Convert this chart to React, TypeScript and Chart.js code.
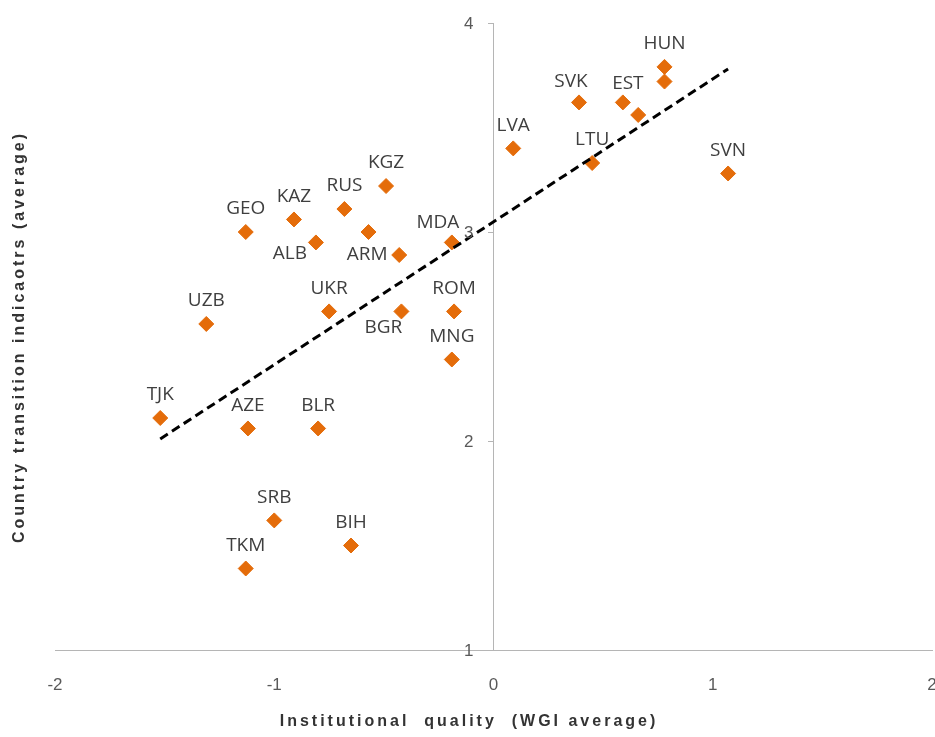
import React, { useEffect, useRef } from 'react';
import { Chart, registerables } from 'chart.js';

Chart.register(...registerables);

// Country codes (empty string = unlabeled point)
const countries = ['HUN', '', 'SVK', 'EST', '', 'LVA', 'LTU', 'SVN', 'KGZ', 'RUS', 'KAZ', 'GEO', 'ALB', '', 'ARM', 'MDA', 'UZB', 'UKR', 'BGR', 'ROM', 'MNG', 'TJK', 'AZE', 'BLR', 'SRB', 'BIH', 'TKM'];
// Institutional quality (WGI average)
const institutionalQuality = [0.78, 0.78, 0.39, 0.59, 0.66, 0.09, 0.45, 1.07, -0.49, -0.68, -0.91, -1.13, -0.81, -0.57, -0.43, -0.19, -1.31, -0.75, -0.42, -0.18, -0.19, -1.52, -1.12, -0.80, -1.00, -0.65, -1.13];
// Country transition indicators (average)
const transitionIndicators = [3.79, 3.72, 3.62, 3.62, 3.56, 3.40, 3.33, 3.28, 3.22, 3.11, 3.06, 3.00, 2.95, 3.00, 2.89, 2.95, 2.56, 2.62, 2.62, 2.62, 2.39, 2.11, 2.06, 2.06, 1.62, 1.50, 1.39];
// Linear trend line end points
const trendX = [-1.52, 1.07];
const trendY = [2.01, 3.78];
// Axis ticks
const xTicks = [-2, -1, 0, 1, 2];
const yTicks = [1, 2, 3, 4];

const xTitle = 'Institutional  quality  (WGI average)';
const yTitle = 'Country transition indicaotrs (average)';

// Label placement (style): offsets in px from the marker, default above
const defaultLabelOffset: [number, number] = [0, -23];
const labelOffsets: Record<string, [number, number]> = {
  ALB: [-26, 11],
  ARM: [-32, 0],
  BGR: [-18, 16],
  MDA: [-14, -20],
  SVK: [-8, -21],
  EST: [5, -19],
};

export default function App() {
  const ref = useRef<HTMLCanvasElement>(null);

  useEffect(() => {
    document.body.style.margin = '0';
    const points = institutionalQuality.map((x, i) => ({ x, y: transitionIndicators[i] }));
    const trend = trendX.map((x, i) => ({ x, y: trendY[i] }));

    const labelPlugin = {
      id: 'pointLabels',
      afterDatasetsDraw(chart: any) {
        const ctx = chart.ctx;
        const meta = chart.getDatasetMeta(1);
        ctx.save();
        ctx.font = '19px "Open Sans"';
        ctx.fillStyle = '#3f3f3f';
        ctx.textAlign = 'center';
        ctx.textBaseline = 'middle';
        meta.data.forEach((el: any, i: number) => {
          const name = countries[i];
          if (!name) return;
          const off = labelOffsets[name] || defaultLabelOffset;
          ctx.fillText(name, el.x + off[0], el.y + off[1]);
        });
        ctx.restore();
      },
      afterDraw(chart: any) {
        const ctx = chart.ctx;
        const xs = chart.scales.x;
        const ys = chart.scales.y;
        // y tick labels, left of the crossing axis
        ctx.save();
        ctx.font = '17px "Liberation Sans"';
        ctx.fillStyle = '#595959';
        ctx.textAlign = 'right';
        ctx.textBaseline = 'middle';
        const axisX = xs.getPixelForValue(0);
        ys.ticks.forEach((t: any) => {
          ctx.fillText(String(t.value), axisX - 20, ys.getPixelForValue(t.value) + 1);
        });
        ctx.restore();
        // axis titles
        ctx.save();
        ctx.font = 'bold 16px "Liberation Sans"';
        ctx.fillStyle = '#333333';
        (ctx as any).letterSpacing = '3px';
        ctx.textAlign = 'center';
        ctx.textBaseline = 'middle';
        ctx.fillText(xTitle, 469, 722);
        ctx.translate(20, 337);
        ctx.rotate(-Math.PI / 2);
        ctx.fillText(yTitle, 0, 0);
        ctx.restore();
      },
    };

    const tickFont = { family: '"Liberation Sans"', size: 17 };
    const axisColor = '#b5b5b5';

    const chart = new Chart(ref.current as HTMLCanvasElement, {
      type: 'scatter',
      data: {
        datasets: [
          {
            type: 'line',
            data: trend,
            borderColor: '#000000',
            borderWidth: 3,
            borderDash: [9, 5],
            pointRadius: 0,
            fill: false,
            tension: 0,
          } as any,
          {
            data: points,
            pointStyle: 'rectRot',
            pointRadius: 7.5,
            backgroundColor: '#E46C0A',
            borderColor: '#E46C0A',
            borderWidth: 1,
          },
        ],
      },
      options: {
        animation: false,
        responsive: true,
        maintainAspectRatio: false,
        events: [],
        layout: { autoPadding: false, padding: { left: 55, right: 3, top: 23, bottom: 0 } },
        plugins: { legend: { display: false }, tooltip: { enabled: false } },
        scales: {
          x: {
            type: 'linear',
            min: xTicks[0],
            max: xTicks[xTicks.length - 1],
            afterBuildTicks: (s: any) => { s.ticks = xTicks.map((v) => ({ value: v })); },
            ticks: { font: tickFont, color: '#595959', padding: 17, maxRotation: 0, autoSkip: false },
            grid: { display: false },
            border: { display: true, color: axisColor, width: 1 },
            afterFit: (s: any) => { s.height = 87; s.paddingLeft = 0; s.paddingRight = 0; },
          },
          y: {
            type: 'linear',
            position: { x: 0 } as any,
            min: yTicks[0],
            max: yTicks[yTicks.length - 1],
            afterBuildTicks: (s: any) => { s.ticks = yTicks.map((v) => ({ value: v })); },
            ticks: { display: false },
            grid: { display: true, drawOnChartArea: false, drawTicks: true, tickLength: 5, color: axisColor },
            border: { display: true, color: axisColor, width: 1 },
            afterFit: (s: any) => { s.paddingTop = 0; s.paddingBottom = 0; },
          },
        },
      },
      plugins: [labelPlugin],
    });
    return () => chart.destroy();
  }, []);

  return (
    <div style={{ position: 'fixed', left: 0, top: 0, width: 935, height: 737, background: '#fff' }}>
      <canvas ref={ref} />
    </div>
  );
}
